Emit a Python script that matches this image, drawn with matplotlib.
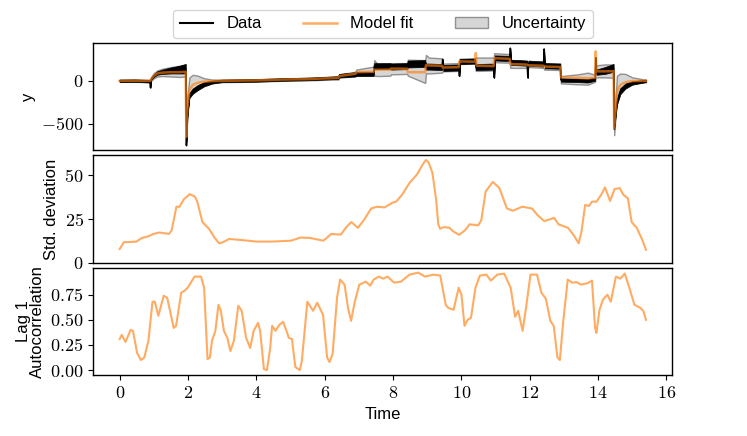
import matplotlib
matplotlib.use('Agg')
import numpy as np
import matplotlib.pyplot as plt
from matplotlib.ticker import FuncFormatter
from matplotlib.lines import Line2D
from matplotlib.patches import Patch

plt.rcParams['font.family'] = ['Liberation Sans', 'DejaVu Sans']
plt.rcParams['mathtext.fontset'] = 'cm'
plt.rcParams['axes.linewidth'] = 1.0

# --- top panel: data, model fit and uncertainty band (knots) ---
t_top = [0.00, 0.45, 0.88, 0.90, 0.92, 1.00, 1.10, 1.25, 1.50, 1.75, 1.93,
         1.95, 1.98, 2.04, 2.14, 2.28, 2.47, 2.70, 3.00, 4.00, 4.70, 5.50,
         6.00, 6.40, 6.42, 6.90, 6.92, 7.43, 7.45, 7.55, 7.92, 7.94, 8.41,
         8.43, 8.94, 8.96, 9.05, 9.43, 9.45, 9.47, 9.92, 9.94, 9.96, 10.40,
         10.42, 10.44, 10.94, 10.96, 10.98, 11.41, 11.43, 11.45, 11.92, 11.94,
         11.96, 12.40, 12.42, 12.44, 12.89, 12.91, 13.40, 13.70, 13.91, 13.93,
         13.95, 14.20, 14.45, 14.47, 14.55, 14.65, 14.80, 15.00, 15.40]
data_y = [0, 2, -5, -80, 20, 60, 90, 105, 120, 130, 140,
          -750, -420, -170, -120, -80, -40, -15, 0, 5, 15, 22,
          30, 38, 60, 75, 80, 80, 170, 170, 172, 165, 170,
          195, 200, 165, 165, 160, 250, 150, 155, 55, 225, 230,
          160, 160, 165, 35, 265, 260, 380, 215, 205, 35,
          205, 195, 370, 175, 170, 10, 5, 0, 20, 268,
          100, 120, 150, -560, -250, -120, -60, -25, 0]
# half-width of the noisy black band around the data
data_spread = [15, 15, 15, 0, 10, 15, 20, 25, 35, 45, 55,
               0, 10, 30, 30, 30, 25, 18, 15, 15, 15, 15,
               15, 15, 20, 25, 25, 25, 35, 35, 35, 35, 35,
               40, 40, 35, 35, 35, 0, 35, 35, 0, 30, 30,
               35, 35, 35, 0, 30, 30, 0, 30, 30, 0,
               30, 30, 0, 30, 30, 20, 20, 20, 20, 0,
               30, 40, 45, 0, 30, 35, 30, 20, 15]
fit_y = [0, 0, 0, 0, 20, 60, 85, 95, 100, 100, 105,
         -650, -320, -105, -47, -23, -9, -3, 0, 5, 14, 20,
         28, 35, 55, 82, 100, 105, 128, 128, 130, 142, 140,
         100, 100, 180, 178, 175, 155, 155, 158, 225, 225, 222,
         322, 175, 170, 262, 262, 255, 195, 195, 188, 180,
         180, 175, 165, 165, 160, 40, 35, 30, 35, 341,
         110, 110, 112, -550, -124, -47, -15, -3, 0]
lo_y = [-12, -12, -12, -12, 0, 30, 50, 55, 50, 45, 50,
        -700, -380, -150, -90, -60, -35, -20, -15, -10, 0, 5,
        12, 15, 35, 55, 70, 80, 60, 55, 60, 75, 80,
        60, -25, 85, 85, 95, 110, 110, 115, 195, 195, 200,
        115, 115, 120, 215, 215, 210, 150, 150, 150, 160,
        160, 150, 130, 130, 125, -30, -40, -45, -10, 40,
        40, 40, 35, -630, -180, -90, -50, -30, -15]
hi_y = [12, 12, 12, 12, 40, 90, 120, 140, 160, 175, 190,
        -550, -200, 40, 70, 60, 30, 15, 12, 18, 28, 35,
        45, 55, 75, 105, 130, 165, 240, 190, 190, 205, 205,
        245, 240, 300, 270, 260, 200, 200, 205, 255, 255, 255,
        270, 270, 270, 320, 320, 310, 240, 240, 230, 220,
        220, 215, 205, 205, 200, 55, 75, 95, 70, 180,
        180, 190, 190, -450, 60, 85, 80, 40, 12]

# --- middle panel: rolling standard deviation ---
t_std = [0.00, 0.12, 0.49, 0.65, 0.82, 0.99, 1.16, 1.30, 1.44, 1.52, 1.66,
         1.75, 1.88, 2.05, 2.20, 2.27, 2.42, 2.61, 2.78, 2.91, 3.02, 3.20,
         3.56, 4.01, 4.45, 5.01, 5.29, 5.57, 5.96, 6.19, 6.47, 6.63, 6.78,
         6.97, 7.14, 7.36, 7.53, 7.75, 7.98, 8.09, 8.26, 8.48, 8.70, 8.87,
         8.96, 9.04, 9.15, 9.26, 9.32, 9.37, 9.49, 9.65, 9.76, 9.93, 10.10,
         10.24, 10.49, 10.58, 10.71, 10.92, 11.11, 11.33, 11.50, 11.78, 12.06,
         12.23, 12.42, 12.56, 12.71, 12.84, 13.12, 13.29, 13.43, 13.51, 13.62,
         13.73, 13.82, 13.95, 14.09, 14.20, 14.35, 14.48, 14.63, 14.74, 14.87,
         14.98, 15.13, 15.28, 15.40]
std_y = [7.8, 11.7, 12.1, 14.2, 15.0, 16.5, 17.3, 16.9, 16.5, 18.5, 32.1,
         32.1, 36.4, 39.3, 37.9, 35.0, 23.3, 19.5, 14.2, 11.1, 11.7, 13.6,
         13.0, 12.1, 12.1, 12.6, 14.4, 14.2, 12.6, 16.5, 16.1, 20.4, 23.3,
         20.0, 24.3, 31.1, 32.1, 31.7, 34.4, 35.0, 38.9, 45.7, 50.6, 56.4,
         58.9, 57.4, 51.6, 36.0, 22.4, 19.5, 20.4, 20.0, 17.9, 16.0, 18.5,
         22.0, 21.4, 24.3, 40.9, 46.3, 42.8, 31.1, 29.8, 32.1, 31.1,
         27.2, 23.9, 24.7, 25.7, 22.0, 20.0, 15.6, 11.1, 17.5, 33.1,
         32.5, 35.0, 35.0, 38.9, 43.2, 35.4, 42.2, 42.8, 38.9, 37.0,
         23.3, 20.0, 13.6, 7.4]

# --- bottom panel: lag-1 autocorrelation ---
t_ac = [0.00, 0.06, 0.17, 0.32, 0.39, 0.51, 0.62, 0.72, 0.84, 0.96, 1.03,
        1.13, 1.29, 1.39, 1.58, 1.65, 1.80, 1.90, 1.99, 2.19, 2.38, 2.47,
        2.57, 2.64, 2.70, 2.80, 2.89, 2.96, 3.05, 3.15, 3.24, 3.34, 3.47,
        3.57, 3.70, 3.82, 3.92, 4.05, 4.11, 4.22, 4.31, 4.40, 4.46, 4.56,
        4.67, 4.78, 4.88, 4.95, 5.04, 5.14, 5.27, 5.33, 5.49, 5.66, 5.78,
        5.95, 6.07, 6.14, 6.23, 6.36, 6.45, 6.58, 6.68, 6.77, 6.88, 7.01,
        7.20, 7.33, 7.43, 7.58, 7.71, 7.84, 8.03, 8.23, 8.48, 8.74, 8.93,
        9.19, 9.38, 9.54, 9.61, 9.77, 9.92, 10.00, 10.09, 10.18, 10.28,
        10.41, 10.54, 10.73, 10.86, 11.05, 11.25, 11.44, 11.57, 11.66,
        11.79, 11.89, 12.02, 12.21, 12.34, 12.47, 12.60, 12.70, 12.81,
        12.88, 12.98, 13.11, 13.24, 13.37, 13.50, 13.69, 13.82, 13.91,
        13.95, 14.04, 14.14, 14.27, 14.37, 14.52, 14.65, 14.78, 14.94,
        15.06, 15.23, 15.32, 15.40]
ac_y = [0.31, 0.35, 0.28, 0.40, 0.39, 0.17, 0.10, 0.125, 0.29, 0.68, 0.68,
        0.54, 0.74, 0.72, 0.42, 0.44, 0.77, 0.79, 0.82, 0.93, 0.93, 0.82,
        0.11, 0.125, 0.29, 0.39, 0.65, 0.59, 0.39, 0.32, 0.19, 0.29, 0.64,
        0.59, 0.32, 0.22, 0.39, 0.47, 0.39, 0.01, 0.00, 0.21, 0.44, 0.39,
        0.45, 0.48, 0.39, 0.32, 0.31, 0.03, 0.00, 0.09, 0.68, 0.59, 0.67,
        0.55, 0.125, 0.08, 0.16, 0.72, 0.90, 0.85, 0.62, 0.49, 0.68, 0.85,
        0.88, 0.84, 0.90, 0.93, 0.91, 0.93, 0.87, 0.88, 0.95, 0.97, 0.93,
        0.95, 0.94, 0.65, 0.62, 0.60, 0.82, 0.75, 0.44, 0.50, 0.52,
        0.82, 0.94, 0.95, 0.89, 0.95, 0.96, 0.82, 0.53, 0.59,
        0.39, 0.62, 0.95, 0.95, 0.77, 0.71, 0.49, 0.44, 0.125,
        0.10, 0.49, 0.90, 0.87, 0.875, 0.85, 0.865, 0.89, 0.42,
        0.37, 0.60, 0.70, 0.75, 0.68, 0.93, 0.91, 0.96, 0.79,
        0.65, 0.62, 0.59, 0.50]

fit_color = 'tab:orange'
fit_alpha = 0.65
band_face = '#bbbbbb'
band_edge = '#555555'


def cm_fmt(fmt):
    return FuncFormatter(lambda v, pos: '$\\mathrm{' + (fmt % v) + '}$')


fig, axes = plt.subplots(3, 1, figsize=(7.47, 4.36), dpi=100, sharex=True)
fig.subplots_adjust(left=0.125, right=0.9, bottom=0.14, top=0.901, hspace=0.047)
ax1, ax2, ax3 = axes

# top panel
d = np.array(data_y, dtype=float)
s = np.array(data_spread, dtype=float)
ax1.fill_between(t_top, lo_y, hi_y, facecolor=band_face, edgecolor=band_edge,
                 alpha=0.6, linewidth=1.0, zorder=1)
ax1.fill_between(t_top, d - s, d + s, color='black', linewidth=0.5, zorder=2)
ax1.plot(t_top, data_y, color='black', lw=1.0, zorder=2)
ax1.plot(t_top, fit_y, color=fit_color, alpha=fit_alpha, lw=1.8, zorder=3)
ax1.set_ylabel('y', fontsize=12)
ax1.set_yticks([-500, 0])
ax1.yaxis.set_major_formatter(cm_fmt('%d'))

handles = [Line2D([], [], color='black', lw=1.5),
           Line2D([], [], color=fit_color, alpha=fit_alpha, lw=1.8),
           Patch(facecolor=band_face, edgecolor=band_edge, alpha=0.6)]
ax1.legend(handles, ['Data', 'Model fit', 'Uncertainty'], loc='lower center',
           bbox_to_anchor=(0.5, 1.0), ncol=3, fontsize=12, columnspacing=2.5,
           handlelength=2.0, borderaxespad=0.3)

# middle panel
ax2.plot(t_std, std_y, color=fit_color, alpha=fit_alpha, lw=1.5)
ax2.set_ylim(0, 61.5)
ax2.set_yticks([0, 25, 50])
ax2.yaxis.set_major_formatter(cm_fmt('%d'))
ax2.set_ylabel('Std. deviation', fontsize=12)

# bottom panel
ax3.plot(t_ac, ac_y, color=fit_color, alpha=fit_alpha, lw=1.5)
ax3.set_yticks([0, 0.25, 0.5, 0.75])
ax3.yaxis.set_major_formatter(cm_fmt('%.2f'))
ax3.set_ylabel('Lag 1\nAutocorrelation', fontsize=12, linespacing=0.9)
ax3.set_xticks(range(0, 17, 2))
ax3.xaxis.set_major_formatter(cm_fmt('%d'))
ax3.set_xlabel('Time', fontsize=12)

for ax in (ax1, ax2):
    ax.tick_params(axis='x', bottom=False, labelbottom=False)
for ax in axes:
    ax.tick_params(labelsize=13)

fig.savefig('out.png', dpi=100)
